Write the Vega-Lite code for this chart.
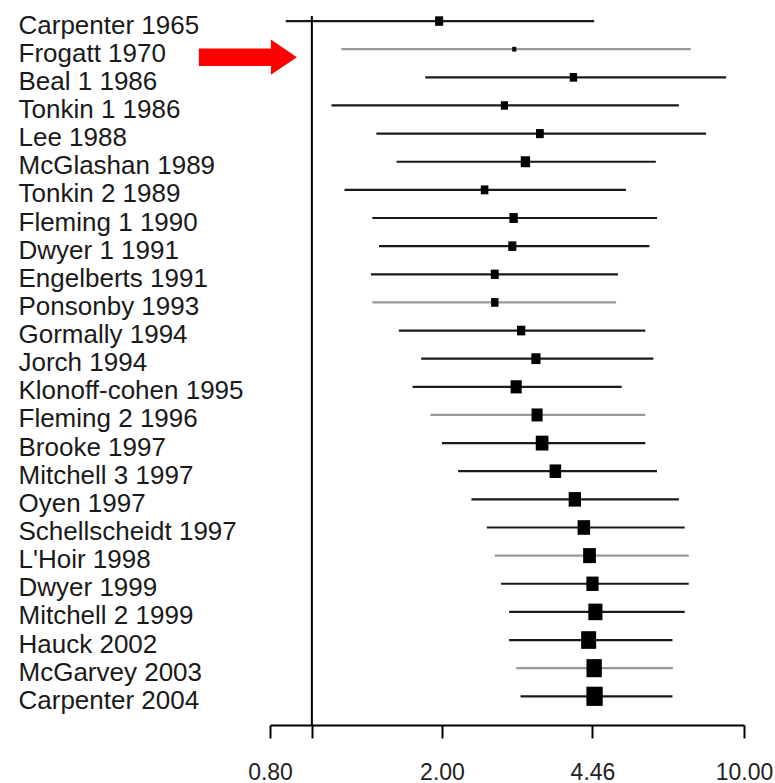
{
  "$schema": "https://vega.github.io/schema/vega-lite/v6.json",
  "width": 474,
  "height": 709,
  "autosize": {"type": "none"},
  "padding": {"left": 270, "top": 16, "right": 31, "bottom": 58},
  "background": "white",
  "config": {"view": {"stroke": null}, "font": "Liberation Sans"},
  "data": {
    "values": [
      {"study": "Carpenter 1965", "est": 1.97, "lo": 0.87, "hi": 4.50, "weight": 24, "set": "A"},
      {"study": "Frogatt 1970", "est": 2.94, "lo": 1.17, "hi": 7.53, "weight": 6, "set": "B"},
      {"study": "Beal 1 1986", "est": 4.03, "lo": 1.83, "hi": 9.09, "weight": 20, "set": "A"},
      {"study": "Tonkin 1 1986", "est": 2.79, "lo": 1.11, "hi": 7.07, "weight": 19, "set": "A"},
      {"study": "Lee 1988", "est": 3.37, "lo": 1.41, "hi": 8.17, "weight": 22, "set": "A"},
      {"study": "McGlashan 1989", "est": 3.12, "lo": 1.57, "hi": 6.25, "weight": 32, "set": "A"},
      {"study": "Tonkin 2 1989", "est": 2.51, "lo": 1.19, "hi": 5.33, "weight": 21, "set": "A"},
      {"study": "Fleming 1 1990", "est": 2.93, "lo": 1.38, "hi": 6.29, "weight": 26, "set": "A"},
      {"study": "Dwyer 1 1991", "est": 2.91, "lo": 1.43, "hi": 6.04, "weight": 24, "set": "A"},
      {"study": "Engelberts 1991", "est": 2.65, "lo": 1.37, "hi": 5.11, "weight": 23, "set": "A"},
      {"study": "Ponsonby 1993", "est": 2.65, "lo": 1.38, "hi": 5.06, "weight": 20, "set": "B"},
      {"study": "Gormally 1994", "est": 3.05, "lo": 1.59, "hi": 5.91, "weight": 25, "set": "A"},
      {"study": "Jorch 1994", "est": 3.30, "lo": 1.79, "hi": 6.17, "weight": 31, "set": "A"},
      {"study": "Klonoff-cohen 1995", "est": 2.97, "lo": 1.71, "hi": 5.21, "weight": 46, "set": "A"},
      {"study": "Fleming 2 1996", "est": 3.32, "lo": 1.88, "hi": 5.91, "weight": 45, "set": "B"},
      {"study": "Brooke 1997", "est": 3.41, "lo": 2.00, "hi": 5.91, "weight": 59, "set": "A"},
      {"study": "Mitchell 3 1997", "est": 3.66, "lo": 2.18, "hi": 6.29, "weight": 49, "set": "A"},
      {"study": "Oyen 1997", "est": 4.06, "lo": 2.34, "hi": 7.07, "weight": 56, "set": "A"},
      {"study": "Schellscheidt 1997", "est": 4.26, "lo": 2.54, "hi": 7.29, "weight": 57, "set": "A"},
      {"study": "L'Hoir 1998", "est": 4.39, "lo": 2.65, "hi": 7.45, "weight": 60, "set": "B"},
      {"study": "Dwyer 1999", "est": 4.46, "lo": 2.74, "hi": 7.45, "weight": 55, "set": "A"},
      {"study": "Mitchell 2 1999", "est": 4.53, "lo": 2.86, "hi": 7.29, "weight": 73, "set": "A"},
      {"study": "Hauck 2002", "est": 4.37, "lo": 2.86, "hi": 6.83, "weight": 83, "set": "A"},
      {"study": "McGarvey 2003", "est": 4.50, "lo": 2.97, "hi": 6.85, "weight": 87, "set": "B"},
      {"study": "Carpenter 2004", "est": 4.51, "lo": 3.04, "hi": 6.83, "weight": 98, "set": "A"}
    ]
  },
  "layer": [
    {
      "data": {"values": [{"ref": 1}]},
      "mark": {"type": "rule", "color": "black", "strokeWidth": 2},
      "encoding": {
        "x": {
          "field": "ref",
          "type": "quantitative",
          "scale": {"type": "log", "domain": [0.8, 10], "nice": false},
          "axis": {
            "title": null,
            "grid": false,
            "values": [0.8, 1, 2, 4.46, 10],
            "labelExpr": "datum.value == 1 ? '' : format(datum.value, '.2f')",
            "domainColor": "black",
            "domainWidth": 2,
            "tickColor": "black",
            "tickWidth": 2,
            "tickSize": 13,
            "labelFontSize": 23,
            "labelColor": "#222222",
            "labelPadding": 23,
            "labelFlush": false,
            "labelBound": false,
            "labelOverlap": false
          }
        }
      }
    },
    {
      "mark": {"type": "rule", "strokeWidth": 2.2},
      "encoding": {
        "y": {
          "field": "study",
          "type": "nominal",
          "sort": null,
          "scale": {
            "type": "point",
            "padding": 0.6,
            "align": 0.15,
            "domain": ["Carpenter 1965", "Frogatt 1970", "Beal 1 1986", "Tonkin 1 1986", "Lee 1988", "McGlashan 1989", "Tonkin 2 1989", "Fleming 1 1990", "Dwyer 1 1991", "Engelberts 1991", "Ponsonby 1993", "Gormally 1994", "Jorch 1994", "Klonoff-cohen 1995", "Fleming 2 1996", "Brooke 1997", "Mitchell 3 1997", "Oyen 1997", "Schellscheidt 1997", "L'Hoir 1998", "Dwyer 1999", "Mitchell 2 1999", "Hauck 2002", "McGarvey 2003", "Carpenter 2004"]
          },
          "axis": {
            "title": null,
            "domain": false,
            "ticks": false,
            "grid": false,
            "labelAlign": "left",
            "labelBaseline": "middle",
            "labelPadding": 252,
            "labelOffset": 4,
            "labelFontSize": 26,
            "labelColor": "#1a1a1a",
            "labelLimit": 400,
            "labelOverlap": false
          }
        },
        "x": {"field": "lo", "type": "quantitative"},
        "x2": {"field": "hi"},
        "color": {
          "field": "set",
          "type": "nominal",
          "scale": {"domain": ["A", "B"], "range": ["#1a1a1a", "#999999"]},
          "legend": null
        }
      }
    },
    {
      "mark": {"type": "point", "filled": true, "opacity": 1, "color": "black", "shape": "M-0.85,-1L0.85,-1L0.85,1L-0.85,1Z"},
      "encoding": {
        "y": {"field": "study", "type": "nominal", "sort": null},
        "x": {"field": "est", "type": "quantitative"},
        "size": {
          "field": "weight",
          "type": "quantitative",
          "scale": {"domain": [0, 100], "range": [0, 376]},
          "legend": null
        }
      }
    },
    {
      "data": {"values": [{"study": "Frogatt 1970", "pos": 0.711}]},
      "mark": {
        "type": "point",
        "filled": true,
        "opacity": 1,
        "color": "#ff0000",
        "size": 9604,
        "yOffset": 8,
        "shape": "M-1,-0.18L0.47,-0.18L0.47,-0.36L1,0L0.47,0.36L0.47,0.18L-1,0.18Z"
      },
      "encoding": {
        "y": {"field": "study", "type": "nominal"},
        "x": {"field": "pos", "type": "quantitative"}
      }
    }
  ]
}
